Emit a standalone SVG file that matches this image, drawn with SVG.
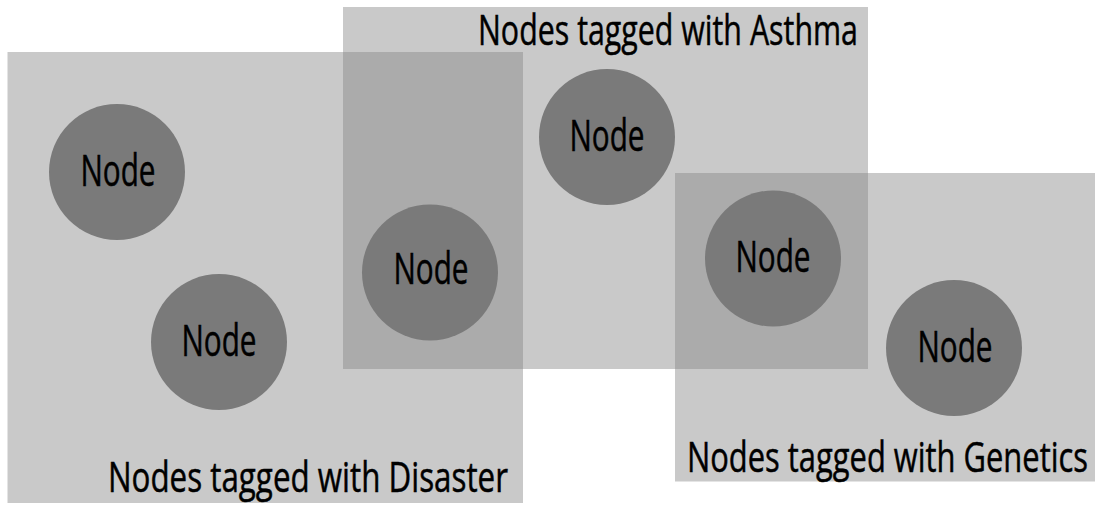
<svg xmlns="http://www.w3.org/2000/svg" width="1098" height="505" viewBox="0 0 1098 505">
  <style>
    .tag { fill: #888888; fill-opacity: 0.45; }
    .node circle { fill: #7a7a7a; }
    .node text { font-family: "Open Sans", "Liberation Sans", sans-serif; font-size: 43px; fill: #000; stroke: #000; stroke-width: 0.5; text-anchor: middle; }
    .label { font-family: "Open Sans", "Liberation Sans", sans-serif; font-size: 42px; fill: #000; stroke: #000; stroke-width: 0.5; }
  </style>
  <rect x="0" y="0" width="1098" height="505" fill="#ffffff"/>
  <g id="tag-disaster">
    <rect class="tag" x="7.5" y="52" width="515.5" height="451"/>
    <text class="label" x="108" y="492" textLength="400" lengthAdjust="spacingAndGlyphs">Nodes tagged with Disaster</text>
  </g>
  <g id="tag-asthma">
    <rect class="tag" x="343" y="7" width="525" height="362"/>
    <text class="label" x="478" y="45" textLength="380" lengthAdjust="spacingAndGlyphs">Nodes tagged with Asthma</text>
  </g>
  <g id="tag-genetics">
    <rect class="tag" x="675" y="173" width="420" height="308.5"/>
    <text class="label" x="687" y="471.5" textLength="401" lengthAdjust="spacingAndGlyphs">Nodes tagged with Genetics</text>
  </g>
  <g id="connectors"></g>
  <g id="node1" class="node">
    <circle cx="117" cy="172" r="68"/>
    <text x="118" y="185.5" textLength="75" lengthAdjust="spacingAndGlyphs">Node</text>
  </g>
  <g id="node2" class="node">
    <circle cx="219" cy="342" r="68"/>
    <text x="219" y="355.5" textLength="75" lengthAdjust="spacingAndGlyphs">Node</text>
  </g>
  <g id="node3" class="node">
    <circle cx="430" cy="272.5" r="68"/>
    <text x="431" y="284" textLength="75" lengthAdjust="spacingAndGlyphs">Node</text>
  </g>
  <g id="node4" class="node">
    <circle cx="607" cy="137" r="68"/>
    <text x="607" y="150.5" textLength="75" lengthAdjust="spacingAndGlyphs">Node</text>
  </g>
  <g id="node5" class="node">
    <circle cx="773" cy="258.5" r="68"/>
    <text x="773" y="272" textLength="75" lengthAdjust="spacingAndGlyphs">Node</text>
  </g>
  <g id="node6" class="node">
    <circle cx="954" cy="348" r="68"/>
    <text x="955" y="362" textLength="75" lengthAdjust="spacingAndGlyphs">Node</text>
  </g>
</svg>
